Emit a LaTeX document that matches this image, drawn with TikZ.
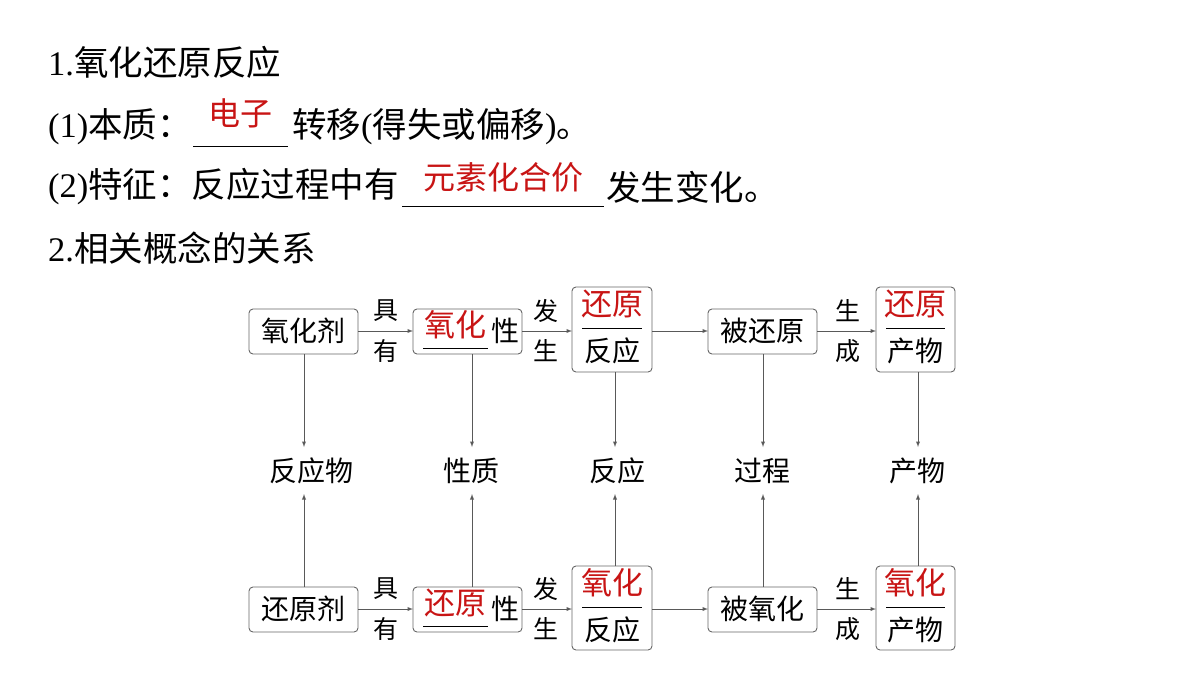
\documentclass[tikz,border=0pt]{standalone}
\usepackage{fontspec}
\setmainfont{Noto Sans CJK SC}
\newfontfamily\lat{Liberation Serif}
\begin{document}
\begin{tikzpicture}[x=1pt,y=-1pt,
  big/.style={font=\fontsize{34.5}{38}\selectfont,inner sep=0,anchor=west},
  red/.style={text={rgb,255:red,200;green,20;blue,20}},
  lbl/.style={font=\fontsize{28}{32}\selectfont,inner sep=0},
  bx/.style={draw=gray!80!black,rounded corners=4pt,line width=0.9pt},
  arr/.style={draw=gray!70!black,line width=0.9pt,-latex}]
\useasboundingbox (0,0) rectangle (1200,675);
\node[big] (t1) at (48,62) {{\lat 1.}氧化还原反应};
\node[big] (t2) at (48,127) {{\lat (1)}本质：};
\node[big] (t2b) at (292,127) {转移{\lat (}得失或偏移{\lat )}。};
\node[big,red,anchor=center,font=\fontsize{32}{36}\selectfont] (r1) at (240,113) {电子};
\draw (193,146) -- (288,146);
\node[big] (t3) at (48,187) {{\lat (2)}特征：反应过程中有};
\node[big] (t3b) at (606,187) {发生变化。};
\node[big,red,anchor=center,font=\fontsize{32}{36}\selectfont] (r2) at (503,177) {元素化合价};
\draw (402,206) -- (604,206);
\node[big] (t4) at (48,248) {{\lat 2.}相关概念的关系};
\foreach \r/\yc/\ya/\yb/\yt/\yd/\n/\m/\k/\p in {T/331/309/354/287/372/氧化剂/氧化/还原/被还原,B/609/587/632/566/650/还原剂/还原/氧化/被氧化}{
  \draw[bx] (249,\ya) rectangle (358,\yb);
  \node[lbl] (\r a) at (303.5,\yc) {\n};
  \draw[bx] (413,\ya) rectangle (522,\yb);
  \node[lbl,red,font=\fontsize{31}{34}\selectfont] (\r bs) at (455,\yc-6) {\m};
  \draw (423,\yc+17) -- (488,\yc+17);
  \node[lbl] (\r bx) at (505,\yc) {性};
  \draw[bx] (572,\yt) rectangle (652,\yd);
  \node[lbl,red,font=\fontsize{31}{34}\selectfont] (\r c) at (612,\yt+17) {\k};
  \draw (582,\yt+41) -- (642,\yt+41);
  \node[lbl] (\r cc) at (612,\yt+64) {反应};
  \draw[bx] (708,\ya) rectangle (817,\yb);
  \node[lbl] (\r d) at (762.5,\yc) {\p};
  \draw[bx] (876,\yt) rectangle (955,\yd);
  \node[lbl,red,font=\fontsize{31}{34}\selectfont] (\r e) at (915.5,\yt+17) {\k};
  \draw (886,\yt+41) -- (945,\yt+41);
  \node[lbl] (\r ee) at (915.5,\yt+64) {产物};
  \node[lbl,font=\fontsize{25}{28}\selectfont] at (386,\yc-20) {具};
  \node[lbl,font=\fontsize{25}{28}\selectfont] at (386,\yc+20) {有};
  \node[lbl,font=\fontsize{25}{28}\selectfont] at (546,\yc-20) {发};
  \node[lbl,font=\fontsize{25}{28}\selectfont] at (546,\yc+20) {生};
  \node[lbl,font=\fontsize{25}{28}\selectfont] at (848,\yc-20) {生};
  \node[lbl,font=\fontsize{25}{28}\selectfont] at (848,\yc+20) {成};
  \draw[arr] (358,\yc) -- (413,\yc);
  \draw[arr] (522,\yc) -- (572,\yc);
  \draw[arr] (652,\yc) -- (708,\yc);
  \draw[arr] (817,\yc) -- (876,\yc);
}
\node[lbl] (m1) at (311,471) {反应物};
\node[lbl] (m2) at (471,471) {性质};
\node[lbl] (m3) at (617,471) {反应};
\node[lbl] (m4) at (762,471) {过程};
\node[lbl] (m5) at (917,471) {产物};
\foreach \x/\t/\b in {304/354/587,472/354/587,615/372/566,763/354/587,918/372/566}{
  \draw[arr] (\x,\t) -- (\x,447);
  \draw[arr] (\x,\b) -- (\x,494);
}
\end{tikzpicture}
\end{document}
